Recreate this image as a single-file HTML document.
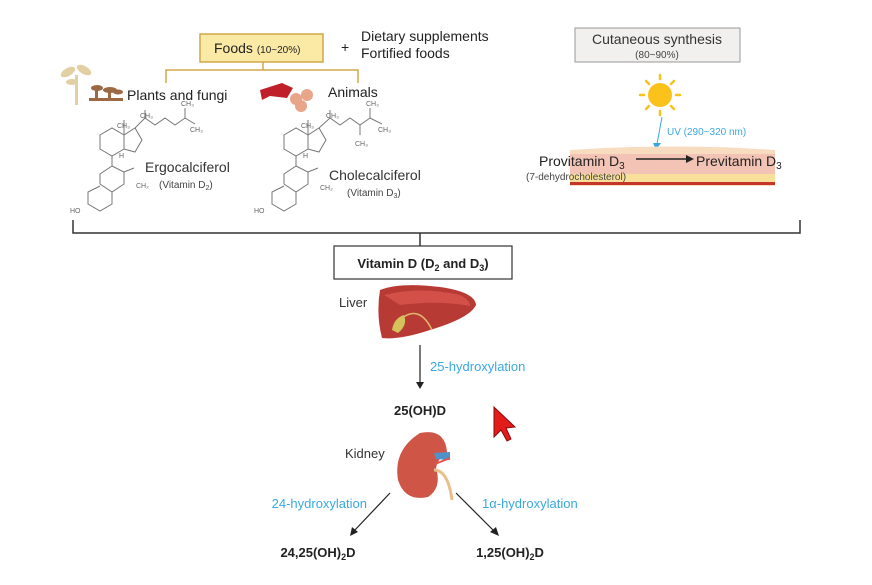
<!DOCTYPE html>
<html><head><meta charset="utf-8"><style>
html,body{margin:0;padding:0;background:#fff;}
svg{display:block;font-family:"Liberation Sans",Arial,sans-serif;}
</style></head><body>
<svg width="872" height="585" viewBox="0 0 872 585" xmlns="http://www.w3.org/2000/svg">
<rect width="872" height="585" fill="#fff"/>
<!-- Foods -->
<rect x="200" y="34" width="123" height="28" fill="#fbeaa6" stroke="#d2a84a" stroke-width="1.5"/>
<text x="214" y="53" font-size="14" fill="#222">Foods <tspan font-size="10">(10~20%)</tspan></text>
<text x="341" y="52" font-size="14" fill="#222">+</text>
<text x="361" y="41" font-size="14" fill="#222">Dietary supplements</text>
<text x="361" y="58" font-size="14" fill="#222">Fortified foods</text>
<path d="M166 83 V70 H358 V83 M263 62 V70" fill="none" stroke="#d2a84a" stroke-width="1.5"/>
<!-- plant icon -->
<g fill="#e3cfa4"><rect x="75" y="75" width="3" height="30"/><ellipse cx="68" cy="72" rx="8" ry="4" transform="rotate(-30 68 72)"/><ellipse cx="84" cy="70" rx="8" ry="4" transform="rotate(30 84 70)"/><ellipse cx="72" cy="82" rx="6" ry="3"/></g>
<g fill="#9b6a45"><ellipse cx="97" cy="88" rx="6" ry="3"/><ellipse cx="110" cy="90" rx="7" ry="3"/><ellipse cx="118" cy="92" rx="5" ry="2.5"/><rect x="95" y="88" width="3" height="11"/><rect x="108" y="90" width="3" height="9"/><rect x="89" y="98" width="34" height="3"/></g>
<text x="127" y="100" font-size="14" fill="#222">Plants and fungi</text>
<!-- animal icon -->
<path d="M260 90 L282 83 L293 88 L287 98 L270 96 L262 100 Z" fill="#c0202a"/>
<circle cx="296" cy="99" r="6" fill="#e8a58a"/><circle cx="307" cy="95" r="6" fill="#e8a58a"/><circle cx="301" cy="106" r="6" fill="#e8a58a"/>
<text x="328" y="97" font-size="14" fill="#222">Animals</text>
<!-- structures -->
<g fill="none" stroke="#777" stroke-width="1">
<path d="M100 135 L112 128 L124 135 L124 149 L112 156 L100 149 Z M124 135 L135 128 L142 140 L135 152 L124 149 M124 120 V135 M135 128 L145 118 L155 125 L165 118 L175 125 L185 118 M185 118 V108 M185 118 L195 124 M145 118 V110 M112 156 L112 166 L100 174 L100 184 M100 184 L112 192 L124 184 L124 172 L112 166 M124 172 L134 168 M112 192 L112 204 L100 211 L88 204 L88 192 L100 186"/>
<path d="M284 135 L296 128 L308 135 L308 149 L296 156 L284 149 Z M308 135 L319 128 L326 140 L319 152 L308 149 M308 120 V135 M319 128 L330 118 L340 125 L350 118 L360 125 L370 118 M370 118 V108 M370 118 L382 124 M330 118 V110 M360 125 V135 M296 156 L296 166 L284 174 L284 184 M284 184 L296 192 L308 184 L308 172 L296 166 M308 172 L318 168 M296 192 L296 204 L284 211 L272 204 L272 192 L284 186"/>
</g>
<g font-size="7" fill="#666"><text x="117" y="128">CH₃</text><text x="140" y="118">CH₃</text><text x="181" y="106">CH₃</text><text x="190" y="132">CH₃</text><text x="119" y="158">H</text><text x="136" y="188">CH₂</text><text x="70" y="213">HO</text>
<text x="301" y="128">CH₃</text><text x="326" y="118">CH₃</text><text x="366" y="106">CH₃</text><text x="378" y="132">CH₃</text><text x="355" y="146">CH₃</text><text x="303" y="158">H</text><text x="320" y="190">CH₂</text><text x="254" y="213">HO</text></g>
<text x="145" y="172" font-size="14" fill="#333">Ergocalciferol</text>
<text x="159" y="188" font-size="10" fill="#444">(Vitamin D<tspan font-size="7" dy="2">2</tspan><tspan dy="-2">)</tspan></text>
<text x="329" y="180" font-size="14" fill="#333">Cholecalciferol</text>
<text x="347" y="196" font-size="10" fill="#444">(Vitamin D<tspan font-size="7" dy="2">3</tspan><tspan dy="-2">)</tspan></text>
<!-- Cutaneous -->
<rect x="575" y="28" width="165" height="34" fill="#f1f0ef" stroke="#999" stroke-width="1"/>
<text x="657" y="44" font-size="14" fill="#333" text-anchor="middle">Cutaneous synthesis</text>
<text x="657" y="58" font-size="10" fill="#444" text-anchor="middle">(80~90%)</text>
<g stroke="#f7c21b" stroke-width="2.5" stroke-linecap="round">
<line x1="660" y1="75" x2="660" y2="79"/><line x1="660" y1="111" x2="660" y2="115"/><line x1="640" y1="95" x2="644" y2="95"/><line x1="676" y1="95" x2="680" y2="95"/>
<line x1="646" y1="81" x2="649" y2="84"/><line x1="671" y1="106" x2="674" y2="109"/><line x1="674" y1="81" x2="671" y2="84"/><line x1="649" y1="106" x2="646" y2="109"/></g>
<circle cx="660" cy="95" r="12" fill="#fbc21b"/>
<line x1="662" y1="117" x2="657" y2="144" stroke="#3aa9e0" stroke-width="1"/>
<path d="M653 143 L661 143 L656 150 Z" fill="#3aa9e0"/>
<text x="667" y="135" font-size="10" fill="#3aa9e0">UV (290~320 nm)</text>
<path d="M570 150 Q670 143 775 150 V186 H570 Z" fill="#f8dcc0"/>
<rect x="570" y="154" width="205" height="20" fill="#f3c4b5"/>
<rect x="570" y="174" width="205" height="8" fill="#f9e09a"/>
<rect x="570" y="182" width="205" height="3" fill="#c4352a"/>
<text x="539" y="166" font-size="14" fill="#222">Provitamin D<tspan font-size="10" dy="3">3</tspan></text>
<text x="526" y="180" font-size="10" fill="#444">(7-dehydrocholesterol)</text>
<line x1="636" y1="159" x2="687" y2="159" stroke="#222" stroke-width="1.5"/>
<path d="M686 155 L694 159 L686 163 Z" fill="#222"/>
<text x="696" y="166" font-size="14" fill="#222">Previtamin D<tspan font-size="10" dy="3">3</tspan></text>
<!-- big bracket -->
<path d="M73 220 V233 H800 V220 M420 233 V246" fill="none" stroke="#333" stroke-width="1.5"/>
<rect x="334" y="246" width="178" height="33" fill="#fff" stroke="#333" stroke-width="1.2"/>
<text x="423" y="268" font-size="13" font-weight="bold" fill="#222" text-anchor="middle">Vitamin D (D<tspan font-size="9" dy="3">2</tspan><tspan dy="-3"> and D</tspan><tspan font-size="9" dy="3">3</tspan><tspan dy="-3">)</tspan></text>
<!-- liver -->
<path d="M380 290 Q400 282 440 287 Q475 292 476 305 Q470 318 430 330 Q400 340 382 338 Q376 315 380 290 Z" fill="#b83a35"/>
<path d="M384 295 Q420 286 460 295 Q470 300 470 306 Q440 300 400 305 Z" fill="#d25048"/>
<path d="M392 330 Q394 318 404 315 Q408 325 398 333 Z" fill="#d4c35a"/>
<path d="M402 318 Q420 305 432 330" fill="none" stroke="#e2b66a" stroke-width="1.5"/>
<text x="339" y="307" font-size="13" fill="#333">Liver</text>
<line x1="420" y1="345" x2="420" y2="383" stroke="#222" stroke-width="1.2"/>
<path d="M416 382 L424 382 L420 389 Z" fill="#222"/>
<text x="430" y="371" font-size="13" fill="#3aa9e0">25-hydroxylation</text>
<text x="420" y="415" font-size="13" font-weight="bold" fill="#222" text-anchor="middle">25(OH)D</text>
<!-- cursor -->
<path d="M494 407 L494 437 L501 430 L507 441 L511 439 L506 428 L515 427 Z" fill="#e21b1b" stroke="#8a0a0a" stroke-width="1"/>
<!-- kidney -->
<path d="M420 433 Q445 428 447 452 Q438 458 436 468 Q442 488 428 497 Q405 502 398 480 Q393 450 420 433 Z" fill="#cf5547"/>
<path d="M434 453 L450 452 L450 460 L436 459 Z" fill="#4d92c8"/>
<path d="M434 470 Q448 470 452 500" fill="none" stroke="#e8c08a" stroke-width="3"/>
<path d="M435 464 L450 458" stroke="#e8504a" stroke-width="2"/>
<text x="345" y="458" font-size="13" fill="#333">Kidney</text>
<line x1="390" y1="493" x2="354" y2="531" stroke="#222" stroke-width="1.2"/>
<path d="M350 536 L352 527 L358 532 Z" fill="#222"/>
<line x1="456" y1="493" x2="494" y2="531" stroke="#222" stroke-width="1.2"/>
<path d="M499 536 L490 532 L496 527 Z" fill="#222"/>
<text x="367" y="508" font-size="13" fill="#3aa9e0" text-anchor="end">24-hydroxylation</text>
<text x="482" y="508" font-size="13" fill="#3aa9e0">1α-hydroxylation</text>
<text x="318" y="557" font-size="13" font-weight="bold" fill="#222" text-anchor="middle">24,25(OH)<tspan font-size="9" dy="3">2</tspan><tspan dy="-3">D</tspan></text>
<text x="510" y="557" font-size="13" font-weight="bold" fill="#222" text-anchor="middle">1,25(OH)<tspan font-size="9" dy="3">2</tspan><tspan dy="-3">D</tspan></text>
</svg>
</body></html>
